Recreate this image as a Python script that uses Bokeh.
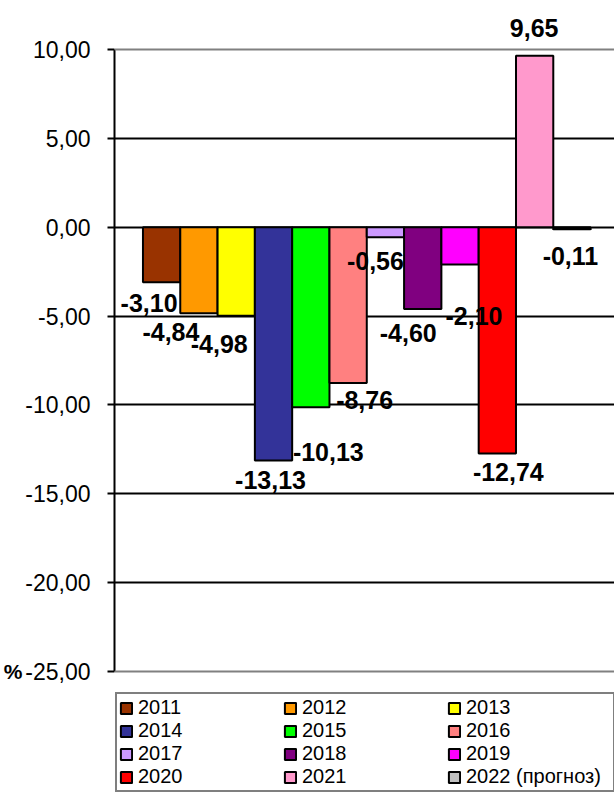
from bokeh.plotting import figure
from bokeh.models import (ColumnDataSource, LabelSet, Span, FixedTicker, Legend,
                          LegendItem, LinearAxis)
from bokeh.core.properties import value
from bokeh.embed import file_html
from bokeh.resources import INLINE

# ---- data ----
years = ["2011", "2012", "2013", "2014", "2015", "2016",
         "2017", "2018", "2019", "2020", "2021", "2022 (прогноз)"]
values = [-3.10, -4.84, -4.98, -13.13, -10.13, -8.76,
          -0.56, -4.60, -2.10, -12.74, 9.65, -0.11]
colors = ["#993300", "#FF9900", "#FFFF00", "#333399", "#00FF00", "#FF8080",
          "#CC99FF", "#800080", "#FF00FF", "#FF0000", "#FF99CC", "#C0C0C0"]
tick_values = [10, 5, 0, -5, -10, -15, -20, -25]
tick_labels = ["10,00", "5,00", "0,00", "-5,00", "-10,00", "-15,00", "-20,00", "-25,00"]
unit_label = "%"

# ---- label placement (styling, px) ----
label_dx = [-12.5, -28, -17, -3, 17.5, 16.5, -10, -14.5, 14, 11, -0.5, -1.5]
label_dy_down = [21, 19, 28.5, 19, 45, 17, 24, 24, 51, 18, -28, 27]

FONT = "Liberation Sans"

src = ColumnDataSource(dict(
    x=list(range(len(years))),
    top=values,
    year=years,
    color=colors,
    text=[f"{v:.2f}".replace(".", ",") for v in values],
    dx=label_dx,
    dy=[-d for d in label_dy_down],
))

y_lo, y_hi = min(tick_values), max(tick_values)

p = figure(width=614, height=792, x_range=(-1.263, 12.141), y_range=(-31.809, 12.026),
           output_backend="svg", toolbar_location=None, x_axis_location=None,
           min_border_left=110, min_border_right=0, min_border_top=13, min_border_bottom=0)
p.outline_line_color = None
p.background_fill_color = "white"
p.border_fill_color = "white"
p.xgrid.visible = False
p.ygrid.ticker = FixedTicker(ticks=[t for t in tick_values if t not in (y_lo, y_hi)])
p.ygrid.grid_line_color = "black"
p.ygrid.grid_line_width = 2

ax = p.yaxis[0]
ax.ticker = FixedTicker(ticks=tick_values)
ax.bounds = (y_lo, y_hi)
ax.major_label_overrides = {t: l for t, l in zip(tick_values, tick_labels)}
ax.axis_line_color = "black"
ax.axis_line_width = 2
ax.major_tick_line_color = "black"
ax.major_tick_line_width = 2
ax.major_tick_out = 7
ax.major_tick_in = 0
ax.minor_tick_out = 0
ax.minor_tick_in = 0
ax.major_label_standoff = 17
ax.major_label_text_font = FONT
ax.major_label_text_font_size = "23px"
ax.major_label_text_color = "black"

# unit axis: shows "%" beside the lowest tick
unit_ax = LinearAxis(ticker=FixedTicker(ticks=[y_lo]),
                     major_label_overrides={y_lo: unit_label},
                     axis_line_color=None, major_tick_line_color=None,
                     minor_tick_line_color=None, major_label_standoff=-6,
                     major_label_text_font=FONT, major_label_text_font_size="21px",
                     major_label_text_font_style="bold", major_label_text_color="black")
p.add_layout(unit_ax, "left")

for loc in (y_hi, y_lo):
    p.add_layout(Span(location=loc, dimension="width", line_color="#808080", line_width=2))

bars = p.vbar(x="x", top="top", bottom=0, width=1.0, source=src,
              fill_color="color", line_color="black", line_width=2)

labels = LabelSet(x="x", y="top", text="text", source=src,
                  x_offset="dx", y_offset="dy",
                  text_align="center", text_baseline="middle",
                  text_font=value(FONT), text_font_size=value("25px"),
                  text_font_style=value("bold"), text_color="black")
p.add_layout(labels)

items = [LegendItem(label=years[i], renderers=[bars], index=i) for i in range(len(years))]
leg = Legend(items=items, ncols=3, orientation="horizontal", location=(1, 0),
             label_text_font=FONT, label_text_font_size="20px", label_text_color="black",
             glyph_width=14, glyph_height=14, label_standoff=5, label_width=145,
             label_height=18, spacing=0, padding=2, margin=0,
             border_line_color="black", border_line_width=2,
             background_fill_color="white", background_fill_alpha=1.0)
p.add_layout(leg)

open("out.html", "w").write(file_html(p, INLINE))
